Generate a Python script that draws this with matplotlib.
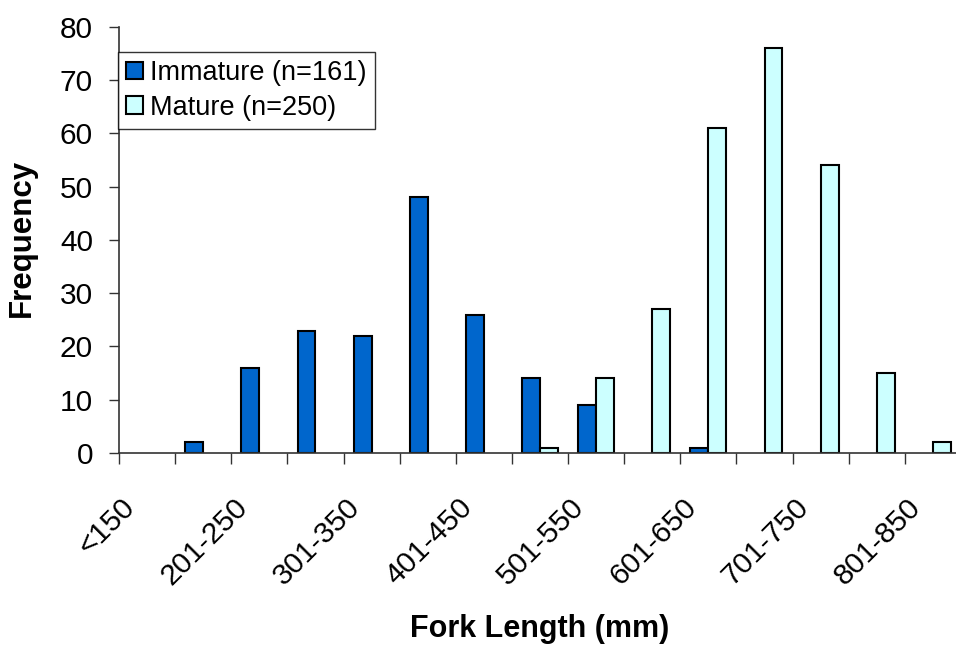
import numpy as np
import matplotlib
matplotlib.use('Agg')
import matplotlib.pyplot as plt
from matplotlib.patches import Patch

plt.rcParams['font.family'] = ['Liberation Sans', 'DejaVu Sans']

# Size classes (fork length, mm)
categories = ['<150', '151-200', '201-250', '251-300', '301-350', '351-400',
              '401-450', '451-500', '501-550', '551-600', '601-650', '651-700',
              '701-750', '751-800', '801-850']
immature = [0, 2, 16, 23, 22, 48, 26, 14, 9, 0, 1, 0, 0, 0, 0]
mature = [0, 0, 0, 0, 0, 0, 0, 1, 14, 27, 61, 76, 54, 15, 2]
yticks = [0, 10, 20, 30, 40, 50, 60, 70, 80]
c_imm, c_mat = '#0066CC', '#CCFFFF'

W, H = 956, 647
fig = plt.figure(figsize=(W / 100, H / 100), dpi=100)
ax = fig.add_axes([119 / W, (H - 453) / H, (961 - 119) / W, (453 - 27) / H])

x = np.arange(len(categories))
w = 0.32
b1 = ax.bar(x - w / 2, immature, w, color=c_imm, edgecolor='black', lw=1.5, zorder=2)
b2 = ax.bar(x + w / 2, mature, w, color=c_mat, edgecolor='black', lw=1.5, zorder=2)
# Excel draws nothing for empty classes
for bars, vals in ((b1, immature), (b2, mature)):
    for p, v in zip(bars, vals):
        if v == 0:
            p.set_visible(False)

ax.set_xlim(-0.5, len(categories) - 0.5)
ax.set_ylim(0, 80)
ax.set_yticks(yticks)
ax.tick_params(axis='y', labelsize=21.5, length=7.2, width=1, color='#333333', pad=11.5)

# labels on every other category, tick marks between categories
ax.set_xticks(x[::2] - 0.29)
ax.set_xticklabels(categories[::2], fontsize=21.5)
ax.set_xticks(np.arange(len(categories) + 1) - 0.5, minor=True)
ax.tick_params(axis='x', which='major', length=0, pad=36)
ax.tick_params(axis='x', which='minor', length=8, width=1, color='#333333')
for lab in ax.get_xticklabels():
    lab.set_rotation(45)
    lab.set_ha('right')
    lab.set_va('center')
    lab.set_rotation_mode('anchor')

for s in ['top', 'right']:
    ax.spines[s].set_visible(False)
for s in ['left', 'bottom']:
    ax.spines[s].set_color('#333333')
    ax.spines[s].set_linewidth(1.2)
    ax.spines[s].set_zorder(5)

fig.text(540 / W, 1 - 629 / H, 'Fork Length (mm)', fontsize=22, fontweight='bold',
         ha='center', va='center')
fig.text(22 / W, 1 - 238 / H, 'Frequency', fontsize=22.5, fontweight='bold',
         ha='center', va='center', rotation=90)

handles = [Patch(facecolor=c_imm, edgecolor='black', lw=1.5),
           Patch(facecolor=c_mat, edgecolor='black', lw=1.5)]
leg = ax.legend(handles, ['Immature (n=161)', 'Mature (n=250)'],
                loc='upper left', bbox_to_anchor=(118 / W, 1 - 52 / H),
                bbox_transform=fig.transFigure, borderaxespad=0, fontsize=19.5,
                frameon=True, fancybox=False, edgecolor='black',
                handlelength=0.63, handleheight=0.63, handletextpad=0.26,
                labelspacing=0.32, borderpad=0.3)
leg.get_frame().set_linewidth(1)

fig.savefig('out.png', dpi=100)
